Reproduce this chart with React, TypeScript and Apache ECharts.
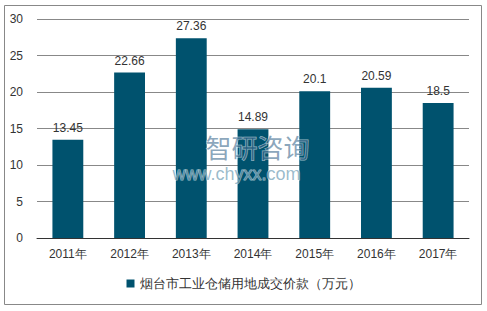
import React, { useEffect, useRef } from "react";
import * as echarts from "echarts";

const categories = ["2011年", "2012年", "2013年", "2014年", "2015年", "2016年", "2017年"];
const values = [13.45, 22.66, 27.36, 14.89, 20.1, 20.59, 18.5];
const seriesName = "烟台市工业仓储用地成交价款（万元）";

export default function App() {
  const ref = useRef<HTMLDivElement>(null);
  useEffect(() => {
    document.body.style.margin = "0";
    const chart = echarts.init(ref.current!, null, { renderer: "svg" });
    chart.setOption({
      animation: false,
      textStyle: { fontFamily: "Liberation Sans, Arial, sans-serif" },
      grid: { left: 37, right: 18, top: 19, bottom: 73 },
      legend: {
        bottom: 16,
        left: "center",
        itemWidth: 8,
        itemHeight: 8,
        itemGap: 4,
        icon: "rect",
        textStyle: { fontSize: 12.5, color: "#333" },
        data: [seriesName],
      },
      xAxis: {
        type: "category",
        data: categories,
        axisLine: { lineStyle: { color: "#333" } },
        axisTick: { show: false },
        axisLabel: { fontSize: 12, color: "#333", margin: 10 },
      },
      yAxis: {
        type: "value",
        min: 0,
        max: 30,
        interval: 5,
        axisLine: { show: false },
        axisTick: { show: false },
        axisLabel: { fontSize: 12, color: "#333", margin: 14 },
        splitLine: { lineStyle: { color: "#888", width: 1 } },
      },
      graphic: [
        {
          type: "rect",
          x: 4.5,
          y: 5.5,
          shape: { x: 0, y: 0, width: 477, height: 299 },
          style: { fill: "rgba(0,0,0,0)", stroke: "#888", lineWidth: 1 },
          silent: true,
          z: 0,
        },
        {
          type: "text",
          left: 205,
          top: 133,
          z: 100,
          style: {
            text: "智研咨询",
            fontSize: 26,
            fill: "rgba(40,90,130,0.55)",
            stroke: "rgba(255,255,255,0.6)",
            lineWidth: 1,
            fontFamily: "Noto Sans CJK SC",
          },
        },
        {
          type: "text",
          left: 172,
          top: 164,
          z: 100,
          style: {
            text: "www.chyxx.com",
            fontSize: 18,
            fill: "rgba(70,130,160,0.55)",
            stroke: "rgba(255,255,255,0.6)",
            lineWidth: 1,
            fontFamily: "Liberation Sans, Arial",
          },
        },
      ],
      series: [
        {
          name: seriesName,
          type: "bar",
          data: values,
          barWidth: "50%",
          itemStyle: { color: "#00526E" },
          label: { show: true, position: "top", fontSize: 12, color: "#333", distance: 6 },
        },
      ],
    });
    return () => chart.dispose();
  }, []);
  return <div ref={ref} style={{ width: 487, height: 311 }} />;
}
